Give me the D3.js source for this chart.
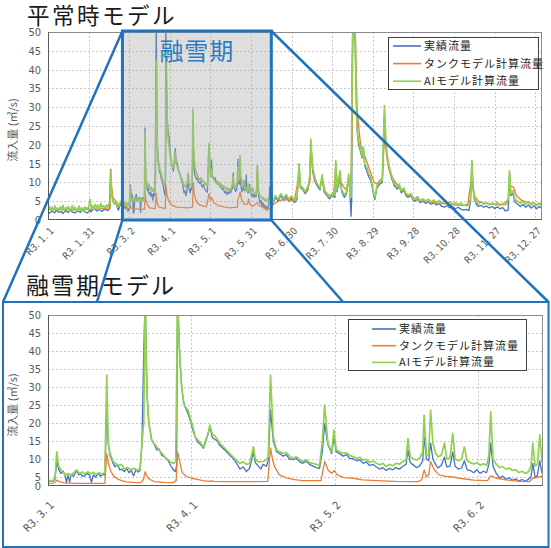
<!DOCTYPE html>
<html><head><meta charset="utf-8">
<script src="https://cdn.jsdelivr.net/npm/d3@7"></script>
<style>body{margin:0;background:#fff}svg{display:block}</style>
</head><body>
<svg id="c" width="551" height="548"></svg>
<script>
// ---------- DATA ----------
const seriesNames = ["実績流量", "タンクモデル計算流量", "AIモデル計算流量"];
const seriesColors = ["#4472c4", "#ed7d31", "#92d050"];

const topTickDates = ["2021-01-01","2021-01-31","2021-03-02","2021-04-01","2021-05-01","2021-05-31","2021-06-30","2021-07-30","2021-08-29","2021-09-28","2021-10-28","2021-11-27","2021-12-27"];
const topTickLabels = ["R3. 1. 1","R3. 1. 31","R3. 3. 2","R3. 4. 1","R3. 5. 1","R3. 5. 31","R3. 6. 30","R3. 7. 30","R3. 8. 29","R3. 9. 28","R3. 10. 28","R3. 11. 27","R3. 12. 27"];
const botTickDates = ["2021-03-01","2021-04-01","2021-05-02","2021-06-02"];
const botTickLabels = ["R3. 3. 1","R3. 4. 1","R3. 5. 2","R3. 6. 2"];
const yTickValues = [0,5,10,15,20,25,30,35,40,45,50];

// [day offset from 2021-01-01, value]
const obsJanFeb = [[0,2.2],[1,1.8],[3,2.4],[5,1.9],[6,2.6],[8,2.0],[10,2.3],[11,1.7],[13,2.5],[15,2.0],[17,2.8],[18,2.1],[20,1.9],[22,2.4],[24,2.0],[25,3.0],[27,2.2],[29,1.9],[31,2.6],[32,2.2],[34,3.2],[36,2.4],[38,2.8],[40,2.3],[42,2.9],[44,2.5],[45.5,3.0],[46.3,13.5],[47,7.5],[48,5.2],[49,4.4],[50,4.8],[51,3.6],[52,2.6],[53,3.8],[54,4.5],[55,3.4],[56,4.2],[57,3.0],[58,3.6]];
const tankJanFeb = [[0,2.8],[10,2.8],[20,2.7],[30,2.8],[40,3.0],[45.8,3.2],[46.3,11],[48,6],[52,4.0],[58,3.5]];
const aiNormJanFeb = [[0,3.0],[1,3.6],[2,2.6],[3,3.4],[4,2.4],[5,3.8],[6,2.8],[7,3.2],[8,2.2],[9,3.5],[10,2.7],[11,3.9],[12,2.5],[13,3.3],[14,2.8],[15,3.6],[16,2.4],[17,3.1],[18,3.8],[19,2.6],[20,3.4],[21,2.3],[22,3.0],[23,3.7],[24,2.6],[25,3.2],[26,2.4],[27,3.5],[28,2.8],[29,3.3],[30,3.0],[31,5.5],[32,3.2],[33,3.8],[34,2.9],[35,4.2],[36,3.3],[37,3.9],[38,3.0],[39,4.4],[40,3.4],[41,3.8],[42,3.1],[43,4.0],[44,3.5],[45,4.2],[46,5],[46.3,13],[47,7],[48,5.0],[49,4.2],[50,4.8],[51,4.0],[52,3.4],[53,4.5],[54,5.0],[55,4.2],[56,4.8],[57,4.0],[58,4.6]];

// [day offset from 2021-03-01, value]  (snow-melt window)
const obsMelt = [[0,2.4],[0.5,2.9],[1,2.6],[1.5,3.5],[1.9,9.3],[2.3,7.2],[2.8,6.0],[3.3,6.6],[3.7,5.5],[4.0,1.8],[4.3,5.6],[4.7,2.2],[5.0,5.8],[5.5,5.2],[6.2,6.8],[6.6,5.6],[7.0,5.9],[7.5,5.2],[8.0,5.4],[8.5,6.0],[9.0,5.5],[9.4,2.0],[9.8,5.6],[10.3,4.9],[10.8,6.0],[11.3,5.2],[11.8,5.7],[12.3,5.5],[12.7,24.5],[13.0,15],[13.4,11],[14.0,9],[14.5,7.8],[15.0,8.5],[15.5,7.0],[15.9,7.2],[16.5,6.5],[17.0,7.4],[17.5,6.2],[18.0,6.8],[18.5,5.3],[19.0,7.0],[19.5,6.4],[19.9,6.8],[20.3,14],[20.7,40],[21.0,55],[21.4,28],[21.8,20],[22.4,15.3],[23.0,14],[23.5,12.5],[24.0,12.8],[24.6,11],[25.3,10.5],[26.0,9.5],[26.5,8.2],[27.1,7.0],[27.5,6.5],[27.8,8],[28.0,55],[28.5,37.5],[28.9,30],[29.3,26],[29.6,24.5],[30.3,22.5],[30.8,20.5],[31.3,18],[31.8,16.2],[32.3,14.8],[33.0,14],[33.6,13],[34.0,14.5],[34.6,17],[35.0,19],[35.5,16],[36.0,15.5],[36.6,15],[37.1,13.8],[37.8,13],[38.6,12],[39.3,11],[40.0,10.2],[40.7,9.0],[41.5,7.2],[42.2,7.8],[42.9,6.5],[43.6,7.5],[44.4,12],[44.8,9],[45.5,8],[46.0,7.2],[46.5,8.5],[47.2,8],[47.6,9.5],[48.1,23.6],[48.7,15],[49.4,12],[50.1,11.5],[50.8,10.8],[51.5,11.2],[52.2,10],[53.0,9.8],[53.7,10.2],[54.4,9.2],[55.1,8.8],[55.8,9.4],[56.5,8.5],[57.3,8.0],[58.0,7.6],[58.7,7.4],[59.3,12],[59.8,19.9],[60.5,14],[61.3,11.5],[61.8,16],[62.3,12],[63.0,11.5],[63.8,10.8],[64.5,11.2],[65.2,10.2],[66.0,10],[66.7,9.5],[67.4,9.8],[68.1,8.8],[68.8,9.2],[69.5,8.2],[70.3,8.5],[71.0,7.8],[71.7,7.2],[72.4,7.6],[73.1,6.8],[73.8,7.4],[74.5,7.0],[75.2,7.6],[76.0,7.2],[76.7,8.0],[77.4,8.5],[77.8,12.5],[78.3,9],[79.0,8.3],[79.7,7.6],[80.3,8.0],[81.0,9.5],[81.3,16.2],[81.8,10],[82.3,9.5],[82.7,14.4],[83.2,10],[83.8,8.5],[84.3,7.5],[85.0,8.2],[85.7,10.5],[86.2,7.8],[86.9,8],[87.5,12],[88.0,8],[88.7,7.2],[89.4,7.5],[90.0,9.5],[90.6,7],[91.3,6.8],[92.0,6.2],[92.7,7],[93.4,6],[94.1,6.6],[94.8,6.2],[95.3,8.5],[95.7,14.4],[96.2,8],[96.9,6],[97.6,4.5],[98.3,5.2],[99.0,3.8],[99.7,4.6],[100.4,3.2],[101.1,4.0],[101.8,2.8],[102.5,3.6],[103.2,2.6],[103.9,3.8],[104.4,5],[104.8,8.8],[105.3,4.6],[105.8,5.5],[106.3,9.5],[106.8,6]];
const tankMelt = [[0,1.5],[1.0,1.6],[1.5,2.0],[1.9,3.2],[2.5,2.4],[3.5,1.7],[6,1.5],[12.3,1.5],[12.7,11.6],[13.1,8.5],[13.6,6.5],[14.3,5.1],[15,4.0],[15.9,3.0],[17,2.3],[18.5,2.0],[20,1.9],[20.6,3.5],[21,6.5],[21.4,5.1],[22,3.6],[23,2.4],[25,2.0],[27,1.9],[27.7,3],[28,12],[28.4,9.7],[29,6.2],[30,5.1],[31,4.3],[32,3.8],[33.5,3.0],[34.8,2.6],[35.2,2.9],[36,2.6],[38,2.4],[44,2.4],[47.5,2.6],[48.1,13],[48.6,9.5],[49,7.9],[50,5.6],[51.5,4.5],[53,3.7],[55,3.0],[59,3.0],[59.8,9.3],[60.5,7],[61.3,6],[61.9,6.8],[62.5,5.6],[64,4.6],[66,4.3],[68,3.4],[71,3.0],[75,2.6],[80,2.4],[80.8,3.5],[81.3,7],[81.8,5],[82.3,5.6],[82.7,9.3],[83.5,7],[84.5,5.6],[86,5.2],[87.5,5.0],[89,4.3],[92,3.3],[95,3],[95.7,5.3],[97,4.3],[99.4,3.3],[102,2.6],[104,2.4],[104.8,4.3],[106,5.0],[107,5.3]];
const tankNormMelt = [[0,2.8],[1.9,3.6],[3,3.0],[12.3,2.8],[12.7,7.8],[13.3,5.5],[14.5,4],[16,3.2],[20.3,3.0],[21,7],[21.6,4.6],[23,3.4],[27.6,3.0],[28.3,9],[29,6.5],[30.5,4.8],[33,3.8],[36,3.4],[44,3.2],[47.8,3.4],[48.3,10],[49,7],[50.5,5],[53,4],[58,3.5],[60,7],[61,5.2],[62,6],[63.5,4.6],[67,3.8],[75,3.2],[81,3.4],[81.4,5.5],[82.9,7.4],[84,5.5],[86,4.2],[88.5,4.2],[89.2,5.6],[90,4.4],[92,3.6],[95.7,4.6],[97,3.8],[101,3.2],[105,3.0],[106.5,3.2]];
const aiSnowMelt = [[0,2.6],[0.5,3.0],[1,2.8],[1.5,4.5],[1.9,12],[2.3,8],[2.8,7],[3.3,6.2],[3.7,5.6],[4.3,6],[5,5.5],[5.6,6.2],[6.2,7],[6.8,6],[7.4,6.4],[8,5.8],[8.6,6.5],[9.2,5.9],[9.8,6.3],[10.4,5.7],[11,6.2],[11.6,5.8],[12.3,6.2],[12.7,33.3],[13.0,14.4],[13.4,11.6],[14,9.5],[14.6,8.8],[15.2,8.2],[15.9,8.5],[16.5,7.2],[17.2,7.6],[17.9,7.0],[18.6,7.4],[19.3,6.9],[19.9,7.4],[20.3,14.4],[20.7,20],[21,55],[21.4,28],[21.8,19.9],[22.4,15.3],[23,14.2],[23.5,13.4],[24,12.4],[24.6,11.6],[25.3,10.5],[26,9.7],[26.5,9.2],[27.1,8.8],[27.6,9.2],[28,55],[28.5,38],[28.9,30],[29.3,25.5],[29.6,24.5],[30.3,23.6],[30.8,21],[31.3,19],[31.8,16.2],[32.3,15.4],[33,14.4],[33.6,13.4],[34,15],[34.6,17],[35,19.4],[35.5,17],[36,16.5],[36.6,15.5],[37.1,14.4],[37.8,13.5],[38.6,12.5],[39.3,11.5],[40,10.6],[40.7,9.7],[41.5,8.8],[42.2,9.2],[42.9,8.5],[43.6,8.8],[44.4,13.4],[44.8,10],[45.5,9.2],[46.5,9.3],[47.2,9.8],[47.6,10.6],[48.1,33.3],[48.7,16.2],[49.4,12.5],[50.1,12],[50.8,11.6],[51.5,11.8],[52.2,10.8],[53,10.2],[53.7,10.6],[54.4,9.8],[55.1,9.3],[55.8,9.8],[56.5,9.0],[57.3,8.8],[58,8.5],[58.7,8.3],[59.3,15],[59.8,25],[60.5,14.4],[61.3,12],[61.8,18],[62.3,12.5],[63,12],[63.8,11.6],[64.5,11.8],[65.2,11],[66,10.6],[66.7,10.2],[67.4,10.5],[68.1,9.7],[68.8,9.9],[69.5,9.1],[70.3,9.4],[71,8.8],[71.7,8.4],[72.4,8.8],[73.1,7.9],[73.8,8.5],[74.5,8.1],[75.2,8.8],[76,8.6],[76.7,9.3],[77.4,9.8],[77.8,15.7],[78.3,10.6],[79,10],[79.7,9.7],[80.3,10.2],[81,12],[81.3,22.2],[81.8,11],[82.3,11],[82.7,23.6],[83.2,14.4],[83.8,11.5],[84.3,10.6],[85,11],[85.7,14.4],[86.2,10],[86.9,10.3],[87.5,17.1],[88,10],[88.7,9.5],[89.4,10],[90,13.4],[90.6,9.5],[91.3,9],[92,8.6],[92.7,9],[93.4,8.3],[94.1,8.7],[94.8,8.2],[95.3,11],[95.7,23.1],[96.2,10],[96.9,8.5],[97.6,7.6],[98.3,7.9],[99,7.2],[99.7,7.5],[100.4,6.8],[101.1,7],[101.8,6.2],[102.5,6.6],[103.2,6.0],[103.9,6.5],[104.4,8],[104.8,14.4],[105.3,8],[105.8,8.5],[106.3,16.7],[106.8,9]];
const aiNormMelt = [[0,3.8],[0.8,4.6],[1.3,4.2],[1.7,8.7],[2.2,6],[2.8,5.2],[3.5,5.8],[4.2,4.9],[5,5.6],[5.8,5.0],[6.5,5.9],[7.2,5.1],[8,5.6],[8.8,4.8],[9.5,5.7],[10.2,5.0],[11,5.5],[11.8,5.0],[12.3,5.6],[12.7,23.3],[13.1,13],[13.6,10.5],[14.3,9.2],[15,8.8],[15.8,9.4],[16.5,8.0],[17.3,8.6],[18,7.6],[18.8,8.2],[19.5,7.5],[20.1,9],[20.5,12],[21.0,42.4],[21.4,25],[21.9,19],[22.5,16],[23.2,14.5],[24,13],[24.8,12.2],[25.5,10.8],[26.3,10.2],[27,9.2],[27.6,9.8],[28.0,20],[28.4,47],[28.8,30],[29.3,24],[30,20.5],[30.7,19],[31.4,16.5],[32.2,15.2],[33,14.2],[33.8,13.8],[34.5,15.5],[35,18],[35.6,15],[36.3,14.6],[37,13.5],[37.8,12.8],[38.6,12],[39.4,11.2],[40.2,10.6],[41,9.6],[41.8,9.2],[42.6,8.8],[43.4,9.4],[44.2,10.5],[44.6,12.5],[45.2,9.8],[46,9.2],[46.8,9.6],[47.5,10],[48.1,29.5],[48.6,19],[49.2,15],[50,13.2],[50.8,12.6],[51.6,11.5],[52.4,11.0],[53.2,10.6],[54,11.2],[54.8,10.2],[55.6,10.5],[56.4,9.8],[57.2,9.4],[58,9.8],[58.8,9.2],[59.4,12],[60.0,20.4],[60.6,14],[61.3,12],[61.9,13.5],[62.6,11.2],[63.4,11],[64.2,10.4],[65,10],[65.8,9.6],[66.6,10.2],[67.4,9.4],[68.2,9.8],[69,9.0],[69.8,9.3],[70.6,8.6],[71.4,8.9],[72.2,8.2],[73,8.6],[73.8,7.9],[74.6,8.3],[75.4,7.8],[76.2,8.5],[77,8.8],[77.8,11.5],[78.4,9.2],[79.2,8.8],[80,9.2],[80.8,10],[81.3,14],[81.8,10.5],[82.4,11],[82.9,17.1],[83.4,12],[84,10.5],[84.8,9.5],[85.6,10.2],[86.4,8.4],[87.2,8.8],[88,7.6],[88.8,8.0],[89.2,9.5],[89.8,7.8],[90.6,7.2],[91.4,7.6],[92.2,8.6],[93,7.2],[93.8,7.0],[94.6,6.8],[95.2,8.5],[95.7,14],[96.3,8.5],[97,7],[97.8,6.4],[98.6,6.0],[99.4,5.6],[100.2,6.0],[101,5.2],[101.8,5.6],[102.6,5.0],[103.4,5.6],[104.2,4.8],[105,5.2],[105.8,4.6],[106.5,5.0]];

// [day offset from 2021-01-01, value]  (summer – winter)
const obsLate = [[166,4.2],[168,6],[170,5],[172,6.5],[174,5.2],[176,6.2],[178,5],[180,5.8],[182,4.6],[184,5.5],[185.5,14.5],[186.5,8.5],[188,8.2],[190,7],[192,8],[193.5,11],[194.2,20.5],[195.5,13],[197,10.5],[199,9],[201,8],[202.5,11.5],[204,7.5],[206,6.5],[208,5.6],[210,6.6],[212,6],[212.6,15],[213.5,7.5],[215.8,11],[217,7.5],[219,6],[220.5,7],[222.2,11.5],[223.2,6.5],[223.9,1.0],[224.4,6],[224.8,40],[225.3,55],[226,55],[226.8,50],[227.4,38],[228.3,24],[229.5,20],[230.7,18.5],[232,16.5],[233,19.3],[234,14.5],[235.5,13],[237,11.5],[238.5,10.5],[240,8],[240.7,6.5],[241.5,5.5],[243,8.5],[245,9.5],[247,10],[248.6,28],[249.5,21],[250.5,17],[252,14],[253.5,11.5],[255,10],[256,9],[258,8.2],[259.5,9],[261,7.2],[263,8],[264.5,6.5],[266,6],[268,6.5],[270,5.2],[271,5],[273,5.6],[275,4.6],[277,5],[279,4.4],[281,4.8],[283,4.2],[285,4.6],[287,4.0],[289,4.4],[291,3.6],[293,3.4],[295,3.8],[297,3.2],[299,3.5],[301,3.0],[303,3.4],[305,2.9],[307,2.6],[309,2.8],[311,2.5],[312.2,5],[313.2,15.5],[314,8.5],[315,5.5],[316.5,4.2],[318,3.6],[320,3.9],[322,3.4],[324,3.7],[326,3.2],[328,3.6],[330,3.1],[332,3.5],[334,3.0],[336,3.3],[338,2.4],[340,2.6],[341,12.5],[342,6.5],[343.5,7],[345,4.8],[347,4.2],[349,3.6],[351,4.2],[353,3.4],[355,4.0],[357,3.2],[359,3.8],[361,3.0],[363,3.6],[364.5,3.2]];
const tankLate = [[166,4.0],[170,5.0],[174,5.5],[178,5.2],[182,5],[185.5,12],[187,8.5],[190,7.5],[193.5,10],[194.2,19],[196,13],[198,10],[201,8.5],[202.5,11],[205,7.5],[208,6.5],[211,6.5],[212.6,14],[214,9.5],[215.8,10.5],[217,9.8],[219,8.5],[220.5,8],[222.2,11],[223.5,7.5],[224.5,20],[225.3,55],[226.5,55],[227.4,45],[228.3,30],[229.5,25],[231,20],[233,18],[235,16],[237,14],[239,12],[241,10],[243,9.5],[245,10.5],[247,11],[248.6,22],[250,18],[251.5,14],[253,12.4],[255,11],[257,9.8],[259,9],[261,8.2],[264,7.2],[267,6.5],[270,5.8],[274,5.3],[278,5],[282,4.8],[286,4.6],[290,4.4],[295,4.2],[300,4.0],[305,3.9],[310,3.8],[313.2,12],[315,6.5],[318,5],[322,4.5],[328,4.2],[334,4.0],[338,4.1],[340,5],[341,9],[342.5,9],[344,8.7],[346,6.5],[350,5.2],[355,4.6],[360,4.3],[364.5,4.1]];
const aiNormLate = [[166,4.5],[168,6.5],[170,5.5],[172,7],[174,5.8],[176,6.8],[178,5.5],[180,6.4],[182,5.2],[184,6],[185.5,14.9],[186.5,9],[188,8.7],[190,7.5],[192,8.5],[193.5,12],[194.2,21.5],[195.5,14],[197,11.3],[199,9.6],[201,8.5],[202.5,12],[204,8],[206,7],[208,6.2],[210,7.2],[212,6.5],[212.6,15.8],[213.5,8],[215.8,13.1],[217,8],[219,6.6],[220.5,7.5],[222.2,12.2],[223.2,7],[223.9,6],[224.5,30],[225.2,55],[226,55],[226.8,55],[227.4,40],[228.3,24.6],[229.5,21],[230.7,19.3],[232,17],[233,19.3],[234,15],[235.5,14],[237,12.5],[238.5,11.3],[240,8.5],[240.7,7],[241.5,6],[243,9],[245,10],[247,10.5],[248.6,30.4],[249.5,22],[250.5,17.5],[252,14.5],[253.5,12.2],[255,10.5],[256,9.6],[258,8.8],[259.5,9.6],[261,7.8],[263,8.5],[264.5,7],[266,6.5],[268,7],[270,5.8],[271,5.6],[273,6.2],[275,5.1],[277,5.6],[279,5.0],[281,5.5],[283,4.8],[285,5.3],[287,4.6],[289,5.2],[291,4.5],[293,5.0],[295,4.4],[297,4.9],[299,4.2],[301,4.6],[303,4.1],[305,4.5],[307,3.8],[309,4.2],[311,4.0],[312.2,6],[313.2,15.8],[314,9],[315,6],[316.5,4.8],[318,4.3],[320,4.8],[322,4.2],[324,4.6],[326,4.0],[328,4.5],[330,4.1],[332,4.7],[334,4.0],[336,4.4],[338,4.6],[340,5.5],[341,13.1],[342,7],[343.5,7.8],[345,5.5],[347,5.0],[349,4.4],[351,5.0],[353,4.2],[355,4.8],[357,4.0],[359,4.6],[361,3.8],[363,4.5],[364.5,4.0]];

// ---------- BUILD ----------
const DAY = 86400000;
const jan1 = Date.UTC(2021,0,1), mar1 = Date.UTC(2021,2,1);
const fromJan = a => a.map(([d,v]) => ({t:new Date(jan1 + d*DAY), v}));
const fromMar = a => a.map(([d,v]) => ({t:new Date(mar1 + d*DAY), v}));
const parse = s => new Date(s + "T00:00:00Z");

const observedYear = [...fromJan(obsJanFeb), ...fromMar(obsMelt), ...fromJan(obsLate)];
const tankYear = [...fromJan(tankJanFeb), ...fromMar(tankNormMelt), ...fromJan(tankLate)];
const aiNormYear = [...fromJan(aiNormJanFeb), ...fromMar(aiNormMelt), ...fromJan(aiNormLate)];
const observedMelt = fromMar(obsMelt), tankMeltS = fromMar(tankMelt), aiMeltS = fromMar(aiSnowMelt);

const svg = d3.select("#c");
const BLUE = "#1f72bd";
const tickFont = "'Liberation Sans Narrow','DejaVu Sans Condensed',sans-serif";
const jpFont = "'Noto Sans CJK JP','Noto Sans',sans-serif";

function drawChart(cfg) {
  const {x, y, x0, x1, y0, y1, id, series, ticks, labels, yLabelY, labelY, legend} = cfg;
  const g = svg.append("g");
  g.append("clipPath").attr("id", id).append("rect")
    .attr("x", x0).attr("y", y0).attr("width", x1 - x0).attr("height", y1 - y0);
  // grid
  g.append("g").selectAll("line").data(yTickValues.filter(v => v > 0 && v < 50)).join("line")
    .attr("x1", x0).attr("x2", x1).attr("y1", d => Math.round(y(d)) + 0.5).attr("y2", d => Math.round(y(d)) + 0.5)
    .attr("stroke", "#c8c8c8").attr("stroke-width", 1).attr("stroke-dasharray", "2,2");
  g.append("g").selectAll("line").data(ticks.slice(1).map(parse)).join("line")
    .attr("x1", d => Math.round(x(d)) + 0.5).attr("x2", d => Math.round(x(d)) + 0.5).attr("y1", y0).attr("y2", y1)
    .attr("stroke", "#c8c8c8").attr("stroke-width", 1).attr("stroke-dasharray", "2,2");
  // lines
  const line = d3.line().x(d => x(d.t)).y(d => y(d.v));
  const lg = g.append("g").attr("clip-path", `url(#${id})`);
  series.forEach((s, i) => {
    lg.append("path").datum(s).attr("d", line).attr("fill", "none")
      .attr("stroke", seriesColors[i]).attr("stroke-width", i === 2 ? 1.7 : 1.3).attr("stroke-linejoin", "round");
  });
  // frame
  g.append("rect").attr("x", x0 + 0.5).attr("y", y0 + 0.5).attr("width", x1 - x0 - 1).attr("height", y1 - y0 - 1)
    .attr("fill", "none").attr("stroke", "#8c8c8c").attr("stroke-width", 1);
  g.append("line").attr("x1", x0 + 0.5).attr("x2", x0 + 0.5).attr("y1", y0).attr("y2", y1).attr("stroke", "#595959");
  g.append("line").attr("x1", x0).attr("x2", x1).attr("y1", y1 - 0.5).attr("y2", y1 - 0.5).attr("stroke", "#595959");
  // y axis
  const ya = d3.axisLeft(y).tickValues(yTickValues).tickSize(0).tickPadding(0);
  const yg = g.append("g").attr("transform", `translate(${x0 - 7},0)`).call(ya);
  yg.select(".domain").remove();
  yg.selectAll("text").attr("font-family", tickFont).attr("font-size", 11).attr("fill", "#595959");
  // y title
  g.append("text").attr("transform", `translate(17,${yLabelY}) rotate(-90)`).attr("text-anchor", "middle")
    .attr("font-family", jpFont).attr("font-size", 11).attr("fill", "#595959").text("流入量 (㎥/s)");
  // x labels
  g.append("g").selectAll("text").data(ticks).join("text")
    .attr("transform", d => `translate(${x(parse(d)) + 4},${labelY}) rotate(-45)`)
    .attr("text-anchor", "end").attr("dy", "0.35em")
    .attr("font-family", tickFont).attr("font-size", cfg.xFont).attr("fill", "#595959")
    .text((d, i) => labels[i]);
  // legend
  const L = legend;
  const lgd = g.append("g");
  lgd.append("rect").attr("x", L.x + 0.5).attr("y", L.y + 0.5).attr("width", L.w).attr("height", L.h)
    .attr("fill", "#fff").attr("stroke", "#404040").attr("stroke-width", 1);
  seriesNames.forEach((n, i) => {
    const yy = L.y + L.row0 + i * L.dy;
    lgd.append("line").attr("x1", L.lx0).attr("x2", L.lx1).attr("y1", yy).attr("y2", yy)
      .attr("stroke", seriesColors[i]).attr("stroke-width", 1.6);
    lgd.append("text").attr("x", L.tx).attr("y", yy).attr("dy", "0.36em")
      .attr("font-family", jpFont).attr("font-size", 11).attr("letter-spacing", "1px").attr("fill", "#262626").text(n);
  });
  return g;
}

// ---- top chart ----
const xTop = d3.scaleUtc().domain([new Date(jan1), new Date(jan1 + 365 * DAY)]).range([48, 542]);
const yTop = d3.scaleLinear().domain([0, 50]).range([220, 32]);
drawChart({x: xTop, y: yTop, x0: 48, x1: 542, y0: 32, y1: 220, id: "clipTop",
  series: [observedYear, tankYear, aiNormYear], ticks: topTickDates, labels: topTickLabels,
  yLabelY: 130, labelY: 229, xFont: 10,
  legend: {x: 388, y: 37, w: 150, h: 52, row0: 9, dy: 17.6, lx0: 393, lx1: 421, tx: 424}});

// ---- bottom chart ----
const xBot = d3.scaleUtc().domain([new Date(mar1), new Date(mar1 + 107 * DAY)]).range([48, 543]);
const yBot = d3.scaleLinear().domain([0, 5, 50]).range([486, 477, 315]);
drawChart({x: xBot, y: yBot, x0: 48, x1: 543, y0: 315, y1: 486, id: "clipBot",
  series: [observedMelt, tankMeltS, aiMeltS], ticks: botTickDates, labels: botTickLabels,
  yLabelY: 405, labelY: 503, xFont: 11,
  legend: {x: 348, y: 319, w: 178, h: 51, row0: 10, dy: 16.7, lx0: 372, lx1: 396, tx: 399}});

// ---- highlight box (snow-melt period) ----
const bx0 = xTop(new Date(Date.UTC(2021,1,25))), bx1 = xTop(new Date(Date.UTC(2021,5,15)));
svg.append("rect").attr("x", bx0).attr("y", 31).attr("width", bx1 - bx0).attr("height", 189)
  .attr("fill", "#a8a8a8").attr("fill-opacity", 0.38);
svg.append("rect").attr("x", bx0).attr("y", 31).attr("width", bx1 - bx0).attr("height", 189)
  .attr("fill", "none").attr("stroke", BLUE).attr("stroke-width", 3);
svg.append("text").attr("x", (bx0 + bx1) / 2).attr("y", 60).attr("text-anchor", "middle")
  .attr("font-family", jpFont).attr("font-size", 24).attr("letter-spacing", "1px").attr("fill", "#2a7cc4").text("融雪期");

// titles
svg.append("text").attr("x", 27).attr("y", 24).attr("font-family", jpFont).attr("font-size", 22.5)
  .attr("letter-spacing", "2.5px").attr("fill", "#1a1a1a").text("平常時モデル");
svg.append("text").attr("x", 26).attr("y", 294).attr("font-family", jpFont).attr("font-size", 23)
  .attr("letter-spacing", "2px").attr("fill", "#1a1a1a").text("融雪期モデル");

// big frame + connectors
svg.append("rect").attr("x", 3).attr("y", 302).attr("width", 545.5).attr("height", 245)
  .attr("fill", "none").attr("stroke", BLUE).attr("stroke-width", 2);
const connectors = [[[bx0, 31], [3, 302]], [[bx0, 220], [97, 302]], [[bx1, 31], [548.5, 302]], [[bx1, 220], [343, 302]]];
svg.append("g").selectAll("line").data(connectors).join("line")
  .attr("x1", d => d[0][0]).attr("y1", d => d[0][1]).attr("x2", d => d[1][0]).attr("y2", d => d[1][1])
  .attr("stroke", BLUE).attr("stroke-width", 2.5);
</script>
</body></html>
